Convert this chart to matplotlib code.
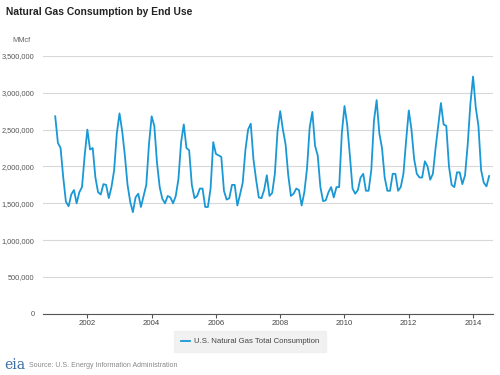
import numpy as np
import matplotlib
matplotlib.use('Agg')
import matplotlib.pyplot as plt
from matplotlib.ticker import FuncFormatter

plt.rcParams['font.family'] = ['Liberation Sans', 'DejaVu Sans']

# monthly U.S. natural gas total consumption, million MMcf, Jan 2001 - Jul 2014
y2001 = [2.68, 2.32, 2.25, 1.85, 1.52, 1.46, 1.62, 1.68, 1.50, 1.65, 1.72, 2.15]
y2002 = [2.50, 2.23, 2.25, 1.85, 1.65, 1.62, 1.76, 1.75, 1.57, 1.72, 1.95, 2.45]
y2003 = [2.72, 2.48, 2.15, 1.75, 1.52, 1.38, 1.58, 1.63, 1.45, 1.60, 1.75, 2.30]
y2004 = [2.68, 2.55, 2.05, 1.72, 1.56, 1.50, 1.60, 1.58, 1.50, 1.60, 1.83, 2.33]
y2005 = [2.57, 2.25, 2.22, 1.75, 1.57, 1.60, 1.70, 1.70, 1.45, 1.45, 1.70, 2.33]
y2006 = [2.17, 2.15, 2.13, 1.67, 1.55, 1.57, 1.75, 1.75, 1.47, 1.62, 1.78, 2.22]
y2007 = [2.50, 2.58, 2.10, 1.82, 1.58, 1.57, 1.68, 1.88, 1.60, 1.64, 1.90, 2.48]
y2008 = [2.75, 2.50, 2.30, 1.88, 1.60, 1.63, 1.70, 1.68, 1.47, 1.65, 1.97, 2.53]
y2009 = [2.74, 2.28, 2.15, 1.72, 1.53, 1.54, 1.65, 1.72, 1.58, 1.72, 1.72, 2.45]
y2010 = [2.82, 2.57, 2.15, 1.70, 1.63, 1.68, 1.85, 1.90, 1.67, 1.67, 1.95, 2.62]
y2011 = [2.90, 2.45, 2.25, 1.85, 1.67, 1.67, 1.90, 1.90, 1.67, 1.72, 1.90, 2.35]
y2012 = [2.76, 2.50, 2.10, 1.90, 1.85, 1.85, 2.07, 2.00, 1.82, 1.90, 2.25, 2.55]
y2013 = [2.86, 2.57, 2.55, 2.00, 1.75, 1.72, 1.92, 1.92, 1.76, 1.88, 2.30, 2.85]
y2014 = [3.22, 2.80, 2.55, 1.95, 1.78, 1.73, 1.87]

consumption = np.array(y2001 + y2002 + y2003 + y2004 + y2005 + y2006 + y2007 +
                       y2008 + y2009 + y2010 + y2011 + y2012 + y2013 + y2014) * 1e6
months = 2001 + np.arange(len(consumption)) / 12.0

fig = plt.figure(figsize=(5, 3.75), dpi=100)
ax = fig.add_axes([0.086, 0.163, 0.9, 0.688])

ax.plot(months, consumption, color='#1a98d5', lw=1.3,
        label='U.S. Natural Gas Total Consumption')

ax.set_ylim(0, 3500000)
ax.set_xlim(2000.62, 2014.62)
ax.set_yticks(np.arange(0, 3500001, 500000))
ax.set_xticks(np.arange(2002, 2015, 2))
ax.yaxis.set_major_formatter(FuncFormatter(lambda v, p: f'{int(v):,}'))
ax.grid(axis='y', color='#d8d8d8', lw=0.8)
ax.set_axisbelow(True)
for s in ['top', 'right', 'left']:
    ax.spines[s].set_visible(False)
ax.spines['bottom'].set_color('#555555')
ax.tick_params(axis='y', length=0, labelsize=5.3, labelcolor='#555555', pad=6)
ax.tick_params(axis='x', length=3, color='#555555', labelsize=5.6,
               labelcolor='#444444', pad=1.5)

fig.text(0.012, 0.968, 'Natural Gas Consumption by End Use', fontsize=7.4,
         fontweight='bold', color='#222222', va='center')
fig.text(0.024, 0.891, 'MMcf', fontsize=5.3, color='#666666', va='center')

leg = fig.legend(loc='upper center', bbox_to_anchor=(0.5, 0.128), fontsize=5.6,
                 frameon=True, handlelength=1.2, borderpad=0.9, handletextpad=0.5)
leg.get_frame().set_facecolor('#eeeeee')
leg.get_frame().set_edgecolor('#eeeeee')
leg.get_frame().set_boxstyle('square', pad=0.0)
for t in leg.get_texts():
    t.set_color('#444444')

fig.text(0.008, 0.026, 'eia', fontsize=10, color='#3a6ea5', va='center',
         family='DejaVu Serif')
fig.text(0.058, 0.026, 'Source: U.S. Energy Information Administration',
         fontsize=5.0, color='#888888', va='center')

fig.savefig('out.png', dpi=100)
